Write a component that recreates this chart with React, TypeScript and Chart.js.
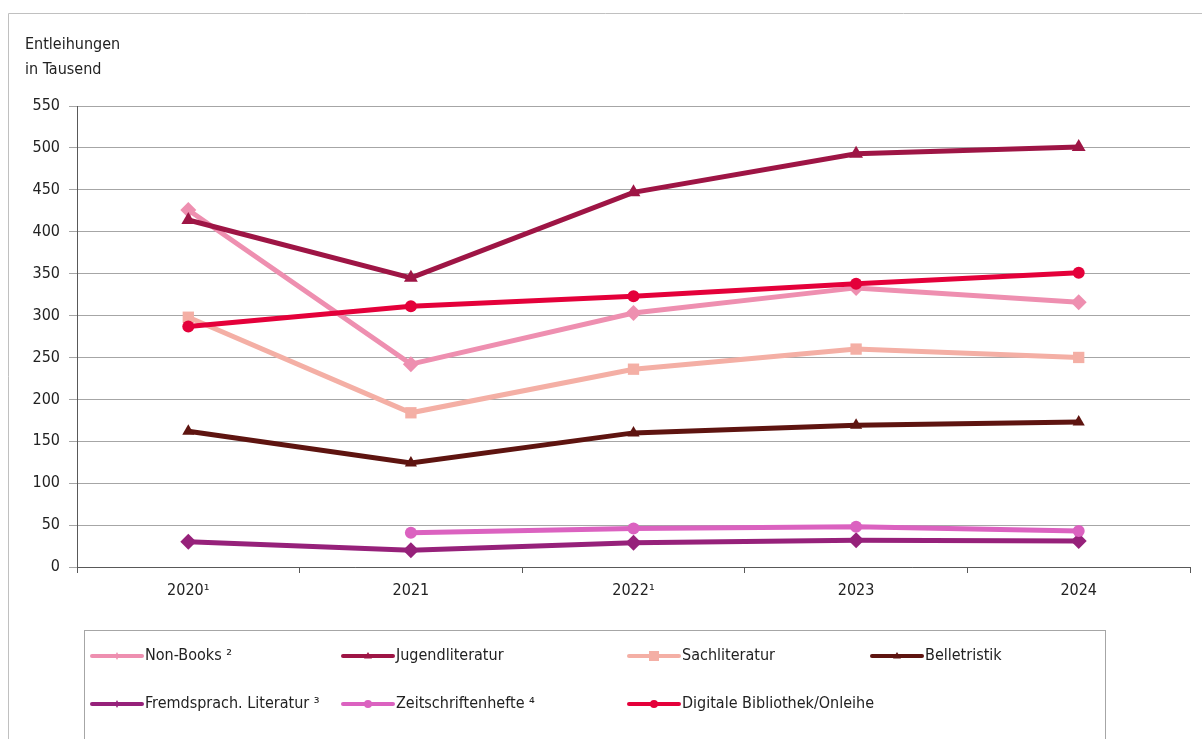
import React, { useEffect, useRef } from "react";
import { Chart, registerables } from "chart.js";

Chart.register(...registerables);

const categories = ["2020¹", "2021", "2022¹", "2023", "2024"];
const nonBooks = [426, 242, 303, 333, 316];
const jugend = [414, 345, 447, 493, 501];
const sach = [298, 184, 236, 260, 250];
const belle = [162, 124, 160, 169, 173];
const fremd = [30, 20, 29, 32, 31];
const zeit = [null, 41, 46, 48, 43];
const digital = [287, 311, 323, 338, 351];
const legendLabels = [
  "Non-Books ²",
  "Jugendliteratur",
  "Sachliteratur",
  "Belletristik",
  "Fremdsprach. Literatur ³",
  "Zeitschriftenhefte ⁴",
  "Digitale Bibliothek/Onleihe",
];
const yTitle = ["Entleihungen", "in Tausend"];

const FONT = "'Liberation Sans Narrow', 'DejaVu Sans Condensed', 'Open Sans', sans-serif";

const framePlugin = {
  id: "frameAndLegend",
  afterDraw(chart: any) {
    const ctx = chart.ctx;
    ctx.save();
    // outer frame
    ctx.strokeStyle = "#C0C0C0";
    ctx.lineWidth = 1;
    ctx.beginPath();
    ctx.moveTo(8.5, 739);
    ctx.lineTo(8.5, 13.5);
    ctx.lineTo(1202, 13.5);
    ctx.stroke();
    // y title
    ctx.fillStyle = "#222";
    ctx.font = "16px " + FONT;
    ctx.textBaseline = "middle";
    ctx.textAlign = "left";
    ctx.fillText(yTitle[0], 25, 45);
    ctx.fillText(yTitle[1], 25, 70);
    // legend box
    ctx.strokeStyle = "#A6A6A6";
    ctx.strokeRect(84.5, 630.5, 1021, 120);
    const cols = [92, 343, 629, 872];
    const rows = [656, 704];
    chart.data.datasets.forEach((ds: any, i: number) => {
      const x = cols[i % 4];
      const y = rows[Math.floor(i / 4)];
      ctx.strokeStyle = ds.borderColor;
      ctx.lineWidth = 4;
      ctx.lineCap = "round";
      ctx.beginPath();
      ctx.moveTo(x, y);
      ctx.lineTo(x + 50, y);
      ctx.stroke();
      // small marker
      ctx.fillStyle = ds.borderColor;
      const cx = x + 25;
      const r = 4;
      ctx.beginPath();
      const st = ds.pointStyle;
      if (st === "circle") ctx.arc(cx, y, r, 0, Math.PI * 2);
      else if (st === "rect") ctx.rect(cx - r - 1, y - r - 1, 2 * r + 2, 2 * r + 2);
      else if (st === "triangle") {
        ctx.moveTo(cx, y - r);
        ctx.lineTo(cx + r, y + r * 0.6);
        ctx.lineTo(cx - r, y + r * 0.6);
        ctx.closePath();
      } else {
        ctx.moveTo(cx, y - r);
        ctx.lineTo(cx + 2, y);
        ctx.lineTo(cx, y + r);
        ctx.lineTo(cx - 2, y);
        ctx.closePath();
      }
      ctx.fill();
      ctx.fillStyle = "#222";
      ctx.font = "16px " + FONT;
      ctx.textAlign = "left";
      ctx.textBaseline = "middle";
      ctx.fillText(legendLabels[i], x + 53, y);
    });
    ctx.restore();
  },
};

export default function App() {
  const ref = useRef<HTMLCanvasElement>(null);
  useEffect(() => {
    const mk = (data: any[], color: string, style: string, radius: number, order: number) => ({
      data,
      order,
      borderColor: color,
      backgroundColor: color,
      pointBackgroundColor: color,
      pointBorderColor: color,
      borderWidth: 5,
      pointStyle: style,
      pointRadius: radius,
      pointBorderWidth: 0,
      tension: 0,
      spanGaps: false,
    });
    const chart = new Chart(ref.current!, {
      type: "line",
      data: {
        labels: categories,
        datasets: [
          { label: legendLabels[0], ...mk(nonBooks, "#EE8FB0", "rectRot", 8, 6) },
          { label: legendLabels[1], ...mk(jugend, "#9E1545", "triangle", 8, 5) },
          { label: legendLabels[2], ...mk(sach, "#F4AFA5", "rect", 8, 4) },
          { label: legendLabels[3], ...mk(belle, "#5E1410", "triangle", 7, 3) },
          { label: legendLabels[4], ...mk(fremd, "#96217A", "rectRot", 8, 2) },
          { label: legendLabels[5], ...mk(zeit, "#DB62C0", "circle", 6, 1) },
          { label: legendLabels[6], ...mk(digital, "#E4003A", "circle", 6, 0) },
        ],
      },
      options: {
        animation: false,
        responsive: true,
        maintainAspectRatio: false,
        layout: { padding: { top: 106, right: 12, left: 0, bottom: 0 } },
        plugins: { legend: { display: false }, tooltip: { enabled: false } },
        scales: {
          x: {
            offset: true,
            grid: { offset: true, drawOnChartArea: false, drawTicks: true, tickLength: 6, color: "#595959" },
            border: { color: "#595959", width: 1 },
            ticks: { color: "#222", font: { family: FONT, size: 16 }, padding: 8 },
            afterFit: (s: any) => { s.height = 172; },
          },
          y: {
            min: 0,
            max: 550,
            ticks: { stepSize: 50, color: "#222", font: { family: FONT, size: 16 }, padding: 9 },
            grid: { color: "#A6A6A6", tickLength: 8 },
            border: { color: "#595959", width: 1 },
            afterFit: (s: any) => { s.width = 77; },
          },
        },
      },
      plugins: [framePlugin],
    });
    return () => chart.destroy();
  }, []);
  return (
    <div style={{ position: "fixed", left: 0, top: 0, width: 1202, height: 739, background: "#fff" }}>
      <canvas ref={ref} />
    </div>
  );
}
